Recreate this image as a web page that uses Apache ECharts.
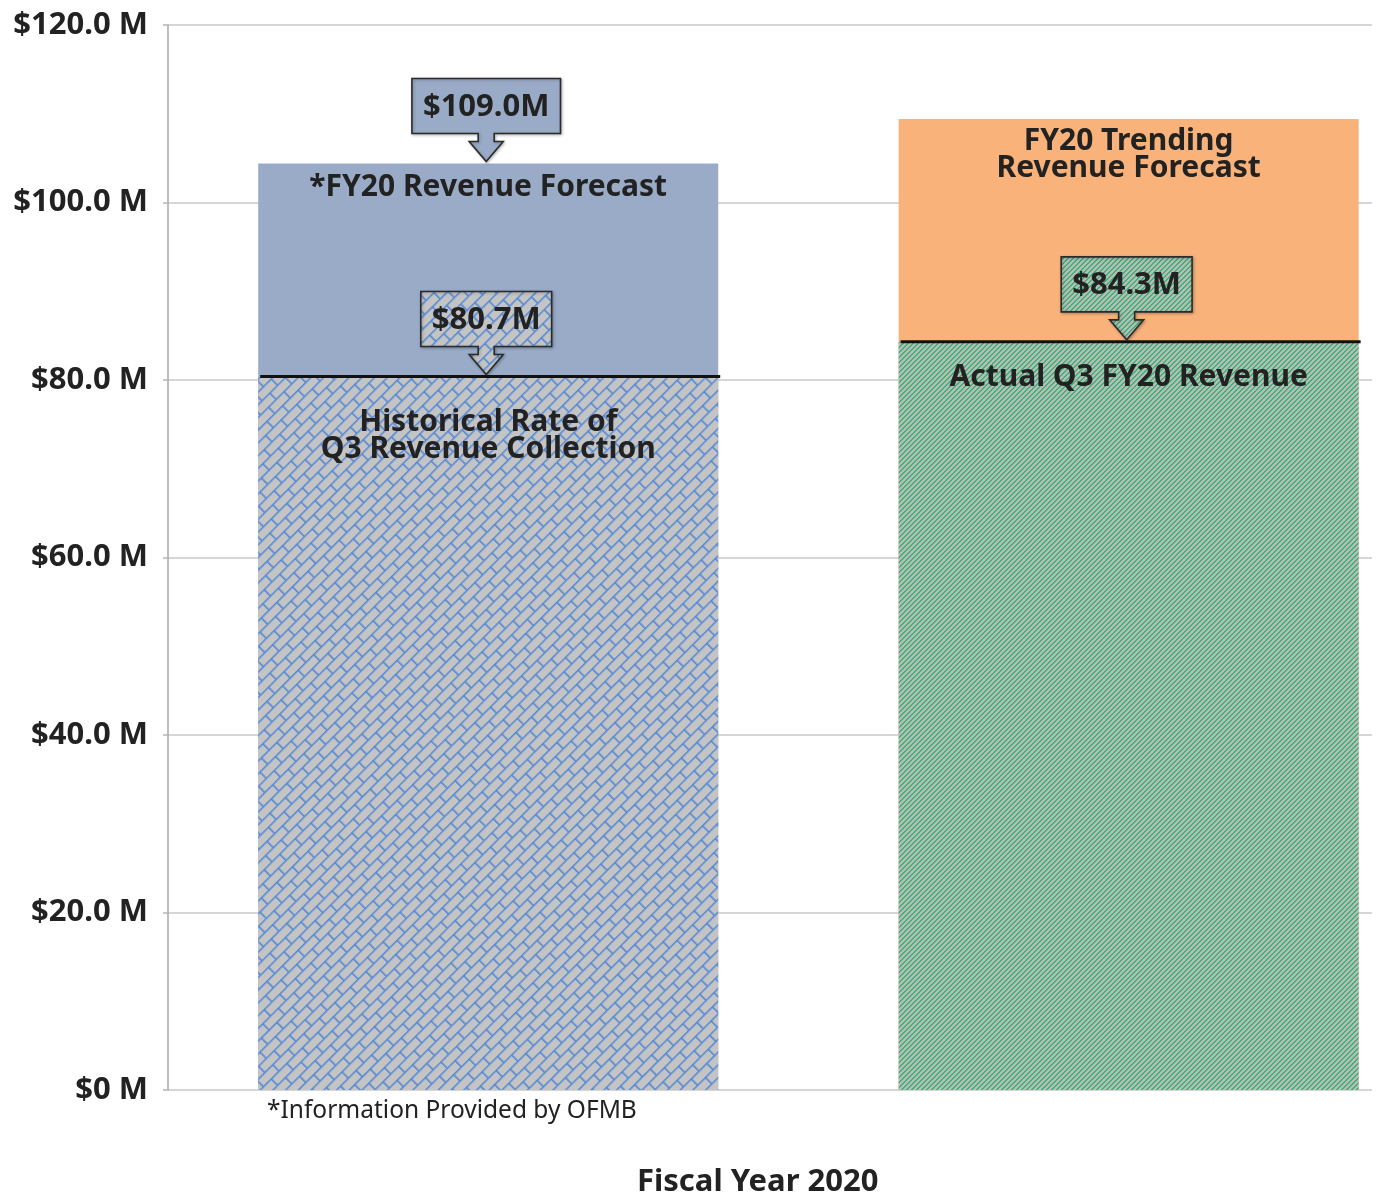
<!DOCTYPE html>
<html>
<head>
<meta charset="utf-8">
<script src="https://cdn.jsdelivr.net/npm/echarts@6/dist/echarts.min.js"></script>
<style>
html,body{margin:0;padding:0;background:#fff;}
#chart{width:1377px;height:1196px;}
</style>
</head>
<body>
<div id="chart"></div>
<script>
// ---- data ----
const barPositions = [0, 1];
const collectedValues = [80.4, 84.3];
const forecastTotals = [104.4, 109.4];
const collectedLabels = ['Historical Rate of\nQ3 Revenue Collection', 'Actual Q3 FY20 Revenue'];
const forecastLabels = ['*FY20 Revenue Forecast', 'FY20 Trending\nRevenue Forecast'];
const calloutTexts = ['$109.0M', '$80.7M', '$84.3M'];
const calloutBars = [0, 0, 1];
const calloutValues = [forecastTotals[0], collectedValues[0], collectedValues[1]];
const yTicks = [0, 20, 40, 60, 80, 100, 120];
const yTickLabels = ['$0 M', '$20.0 M', '$40.0 M', '$60.0 M', '$80.0 M', '$100.0 M', '$120.0 M'];
const xAxisTitle = 'Fiscal Year 2020';
const footnote = '*Information Provided by OFMB';

// ---- patterns ----
function brickPattern() {
  const w = 22, h = 9;
  const c = document.createElement('canvas');
  c.width = w; c.height = 2 * h;
  const g = c.getContext('2d');
  g.fillStyle = '#c4c4c4';
  g.fillRect(0, 0, w, 2 * h);
  g.strokeStyle = '#5288d6';
  g.lineWidth = 1.6;
  g.beginPath();
  g.moveTo(0, 0.8); g.lineTo(w, 0.8);
  g.moveTo(0, h + 0.8); g.lineTo(w, h + 0.8);
  g.moveTo(0.8, 0); g.lineTo(0.8, h);
  g.moveTo(w / 2 + 0.8, h); g.lineTo(w / 2 + 0.8, 2 * h);
  g.stroke();
  return { image: c, repeat: 'repeat', rotation: -Math.PI / 4 };
}
function stripePattern() {
  const n = 5;
  const c = document.createElement('canvas');
  c.width = n; c.height = n;
  const g = c.getContext('2d');
  for (let x = 0; x < n; x++) {
    for (let y = 0; y < n; y++) {
      g.fillStyle = ((x + y) % n) < 2 ? '#3ab572' : '#bababa';
      g.fillRect(x, y, 1, 1);
    }
  }
  return { image: c, repeat: 'repeat' };
}
const brick = brickPattern();
const stripes = stripePattern();
const blueFill = '#99abc7';
const orangeFill = '#f9b27a';
const lowerFills = [brick, stripes];
const upperFills = [blueFill, orangeFill];
const calloutFills = [blueFill, brick, stripes];

const FONT = '"Noto Sans", "Open Sans", sans-serif';
const BOLD = 'bold 31px ' + FONT;
const measureCtx = document.createElement('canvas').getContext('2d');
const BAR_W = 460;

const chart = echarts.init(document.getElementById('chart'), null, { renderer: 'canvas' });

const labelStyle = { fontFamily: FONT, fontWeight: 'bold', fontSize: 30, color: '#222', lineHeight: 27 };

const option = {
  animation: false,
  backgroundColor: '#ffffff',
  grid: { left: 168, right: 5, top: 25, bottom: 106, containLabel: false },
  xAxis: {
    type: 'value', min: -0.5, max: 1.38,
    axisLine: { show: false }, axisTick: { show: false },
    axisLabel: { show: false }, splitLine: { show: false }
  },
  yAxis: {
    type: 'value', min: 0, max: 120, interval: 20,
    axisLine: { show: true, onZero: false, lineStyle: { color: '#a9a9a9', width: 1.5 } },
    axisTick: { show: true, length: 5, lineStyle: { color: '#b5b5b5', width: 1.5 } },
    splitLine: { show: true, lineStyle: { color: '#c8c8c8', width: 1.5 } },
    axisLabel: {
      margin: 20, fontFamily: FONT, fontWeight: 'bold', fontSize: 31, color: '#222',
      padding: [4, 0, 0, 0],
      formatter: v => yTickLabels[yTicks.indexOf(v)]
    }
  },
  graphic: [
    { type: 'text', left: 267, top: 1099, style: { text: footnote, font: '24.5px ' + FONT, fill: '#222' } },
    { type: 'text', left: 637, top: 1167, style: { text: xAxisTitle, font: BOLD, fill: '#222' } }
  ],
  series: [
    {
      type: 'bar', name: 'Forecast', barWidth: BAR_W, barGap: '-100%', z: 2,
      data: barPositions.map((x, i) => ({
        value: [x, forecastTotals[i]],
        itemStyle: { color: upperFills[i] },
        label: Object.assign({
          show: true, position: 'insideTop', distance: i === 0 ? 11 : 9,
          formatter: forecastLabels[i]
        }, labelStyle)
      }))
    },
    {
      type: 'bar', name: 'Collected', barWidth: BAR_W, barGap: '-100%', z: 3,
      data: barPositions.map((x, i) => ({
        value: [x, collectedValues[i]],
        itemStyle: { color: lowerFills[i] },
        label: Object.assign({
          show: true, position: 'insideTop', distance: i === 0 ? 33 : 22,
          formatter: collectedLabels[i]
        }, labelStyle)
      }))
    },
    {
      type: 'custom', name: 'Boundary', z: 5,
      data: barPositions.map((x, i) => [x, collectedValues[i]]),
      renderItem: (params, api) => {
        const p = api.coord([api.value(0), api.value(1)]);
        return {
          type: 'line',
          shape: { x1: p[0] - BAR_W / 2 + 2, y1: p[1], x2: p[0] + BAR_W / 2 + 2, y2: p[1] },
          style: { stroke: '#111', lineWidth: 3 }
        };
      }
    },
    {
      type: 'custom', name: 'Callouts', z: 6,
      data: calloutBars.map((b, i) => [barPositions[b], calloutValues[i]]),
      renderItem: (params, api) => {
        const i = params.dataIndex;
        const p = api.coord([api.value(0), api.value(1)]);
        const cx = p[0] - 2, tip = p[1] - 2;
        measureCtx.font = BOLD;
        const tw = measureCtx.measureText(calloutTexts[i]).width;
        const w = tw + 22, h = 55;
        const bottom = tip - 28, top = bottom - h;
        const s = 8, hw = 17, sh = bottom + 8;
        const pts = [
          [cx - w / 2, top], [cx + w / 2, top], [cx + w / 2, bottom], [cx + s, bottom],
          [cx + s, sh], [cx + hw, sh], [cx, tip], [cx - hw, sh], [cx - s, sh], [cx - s, bottom],
          [cx - w / 2, bottom]
        ];
        return {
          type: 'group',
          children: [
            { type: 'polygon', shape: { points: pts },
              style: { fill: calloutFills[i], stroke: '#2b2b2b', lineWidth: 1.6,
                       shadowColor: 'rgba(0,0,0,0.25)', shadowBlur: 3, shadowOffsetX: 1, shadowOffsetY: 1 } },
            { type: 'text', x: cx, y: top + h / 2 + 1,
              style: { text: calloutTexts[i], font: BOLD, fill: '#222', align: 'center', verticalAlign: 'middle' } }
          ]
        };
      }
    }
  ]
};
chart.setOption(option);
</script>
</body>
</html>
